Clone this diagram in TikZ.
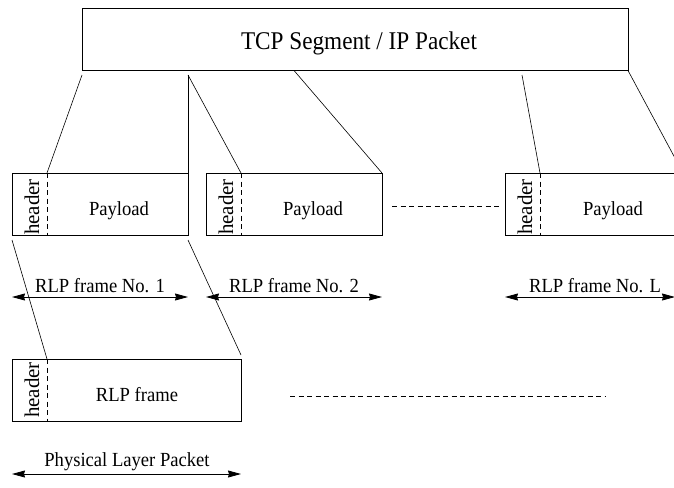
\documentclass[tikz,border=0pt]{standalone}
\usepackage{fontspec}
\setmainfont{Liberation Serif}
\usetikzlibrary{arrows.meta}
\begin{document}
\begin{tikzpicture}[x=1pt,y=-1pt,
  line width=0.8pt,
  frame/.style={draw, rectangle, inner sep=0pt, outer sep=0pt, anchor=north west},
  big/.style={font=\fontsize{25.5}{28}\selectfont, xscale=0.91, transform shape, anchor=base, inner sep=0pt},
  lbl/.style={font=\fontsize{20}{22}\selectfont, xscale=0.93, transform shape, anchor=base, inner sep=0pt},
  hdr/.style={font=\fontsize{21}{22}\selectfont, rotate=90, inner sep=0pt},
  sep/.style={dash pattern=on 5pt off 3.5pt},
  link/.style={line width=0.6pt},
  span/.style={{Stealth[length=13pt,width=7pt,inset=1pt]}-{Stealth[length=13pt,width=7pt,inset=1pt]}}
]
\useasboundingbox (0,0) rectangle (674,487);
\clip (0,0) rectangle (674,487);

% top box
\node[frame, minimum width=546pt, minimum height=62pt] (top) at (82,8.5) {};
\node[big] (toptxt) at (359,50) {TCP Segment / IP Packet};

% RLP frame boxes
\node[frame, minimum width=176pt, minimum height=62pt] (b1) at (12,173) {};
\node[frame, minimum width=176pt, minimum height=62pt] (b2) at (206,173) {};
\node[frame, minimum width=178pt, minimum height=62pt] (b3) at (505,173) {};
\node[frame, minimum width=229pt, minimum height=62pt] (b4) at (12,359) {};

% header dividers
\coordinate (h1t) at (47,173);  \coordinate (h1b) at (47,235);
\coordinate (h2t) at (241,173); \coordinate (h2b) at (241,235);
\coordinate (h3t) at (540,173); \coordinate (h3b) at (540,235);
\coordinate (h4t) at (47,359);  \coordinate (h4b) at (47,421);
\draw[sep] (h1t) -- (h1b);
\draw[sep] (h2t) -- (h2b);
\draw[sep] (h3t) -- (h3b);
\draw[sep] (h4t) -- (h4b);

% header labels
\node[hdr] (hd1) at (32,207) {header};
\node[hdr] (hd2) at (226,207) {header};
\node[hdr] (hd3) at (525,207) {header};
\node[hdr] (hd4) at (32,390) {header};

% payload labels
\node[lbl] (p1) at (119,215) {Payload};
\node[lbl] (p2) at (313,215) {Payload};
\node[lbl] (p3) at (613,215) {Payload};
\node[lbl] (p4) at (137,401.7) {RLP frame};

% connecting lines from the top box
\coordinate (s1) at (82,75);
\coordinate (s2) at (188,75);
\coordinate (s3) at (294,70.5);
\coordinate (s4) at (522,75);
\coordinate (s5) at (628,70.5);
\coordinate (e5) at (683,173);
\draw[link] (s1) -- (h1t);
\draw[link] (s2) -- (b1.north east);
\draw[link] (s2) -- (h2t);
\draw[link] (s3) -- (b2.north east);
\draw[link] (s4) -- (h3t);
\draw[link] (s5) -- (e5);

% lines from RLP frame 1 to the physical layer packet
\coordinate (u1) at (12,240);
\coordinate (u2) at (188,240);
\coordinate (v2) at (241,355);
\draw[link] (u1) -- (h4t);
\draw[link] (u2) -- (v2);

% ellipsis dashes
\coordinate (d1a) at (392,206); \coordinate (d1b) at (502,206);
\coordinate (d2a) at (290,396); \coordinate (d2b) at (605,396);
\draw[sep] (d1a) -- (d1b);
\draw[sep] (d2a) -- (d2b);

% span arrows
\coordinate (a1l) at (12,297);  \coordinate (a1r) at (188,297);
\coordinate (a2l) at (206,297); \coordinate (a2r) at (382,297);
\coordinate (a3l) at (505,297); \coordinate (a3r) at (675,297);
\coordinate (a4l) at (12,474);  \coordinate (a4r) at (241,474);
\draw[span] (a1l) -- (a1r);
\draw[span] (a2l) -- (a2r);
\draw[span] (a3l) -- (a3r);
\draw[span] (a4l) -- (a4r);
\node[lbl] (l1) at (100,292) {RLP frame No. 1};
\node[lbl] (l2) at (294,292) {RLP frame No. 2};
\node[lbl] (l3) at (595,292) {RLP frame No. L};
\node[lbl] (l4) at (127,466.5) {Physical Layer Packet};
\end{tikzpicture}
\end{document}
